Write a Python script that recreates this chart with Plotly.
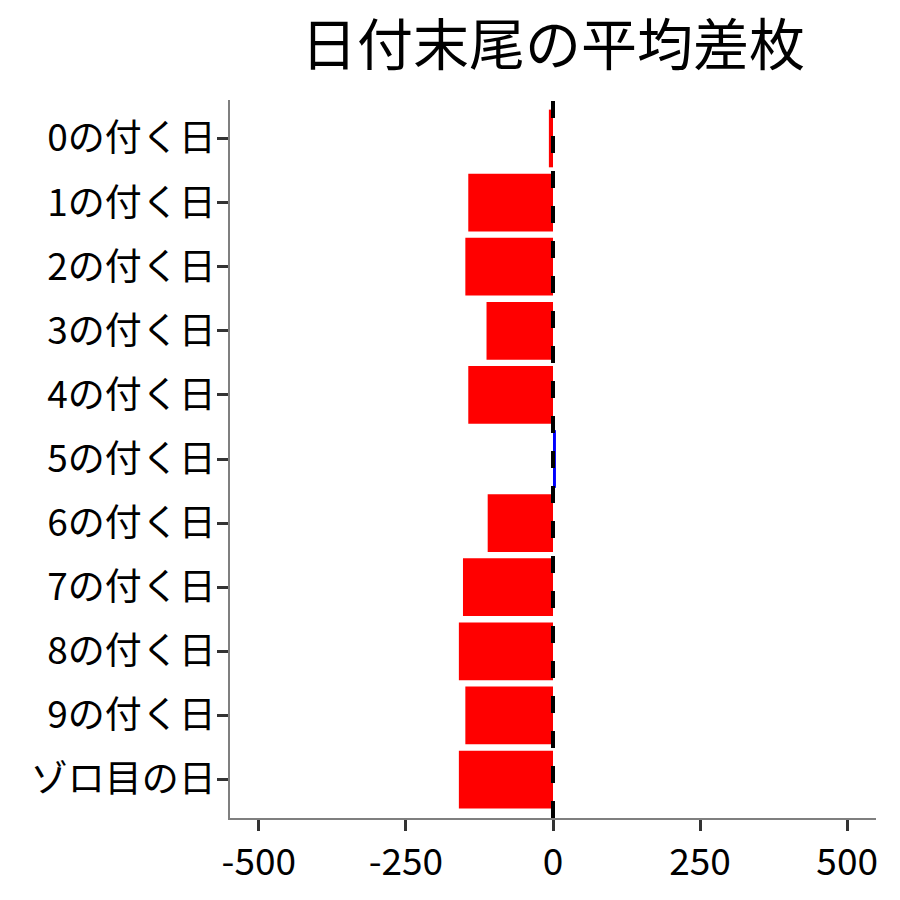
import plotly.graph_objects as go

categories = ["0の付く日", "1の付く日", "2の付く日", "3の付く日", "4の付く日",
              "5の付く日", "6の付く日", "7の付く日", "8の付く日", "9の付く日", "ゾロ目の日"]
values = [-7, -144, -149, -113, -144, 5, -111, -153, -160, -149, -160]
x_ticks = [-500, -250, 0, 250, 500]

colors = ["#0000FF" if v > 0 else "#FF0000" for v in values]
FONT = "Noto Sans CJK JP"

fig = go.Figure(go.Bar(
    x=values, y=categories, orientation="h",
    marker=dict(color=colors, line=dict(width=0)),
    width=0.9, showlegend=False,
))

fig.add_shape(type="line", xref="x", yref="paper", x0=0, x1=0, y0=0, y1=1,
              line=dict(color="black", width=4, dash="17px,18px"))

fig.update_layout(
    width=900, height=900,
    margin=dict(l=230, r=24, t=100, b=82),
    paper_bgcolor="white", plot_bgcolor="white",
    font=dict(family=FONT, color="black", size=37),
    title=dict(text="日付末尾の平均差枚", font=dict(family=FONT, size=56, color="black"),
               x=0.5, xref="paper", xanchor="center", y=1 - 45 / 900, yref="container", yanchor="middle"),
    bargap=0.1,
)
fig.update_xaxes(range=[-549, 549], tickvals=x_ticks, ticktext=[str(t) for t in x_ticks],
                 showgrid=False, zeroline=False, showline=True, linecolor="#7f7f7f", linewidth=1.5,
                 ticks="outside", ticklen=11, tickwidth=3, tickcolor="#333333",
                 tickfont=dict(family=FONT, size=37, color="black"))
fig.update_yaxes(categoryorder="array", categoryarray=categories, range=[10.6, -0.6],
                 showgrid=False, zeroline=False, showline=True, linecolor="#7f7f7f", linewidth=1.5,
                 ticks="outside", ticklen=11, tickwidth=3, tickcolor="#333333",
                 tickfont=dict(family=FONT, size=37, color="black"), ticklabelstandoff=-6)

fig.write_html("out.html", config={"displayModeBar": False},
               post_script="document.body.style.margin='0';")
